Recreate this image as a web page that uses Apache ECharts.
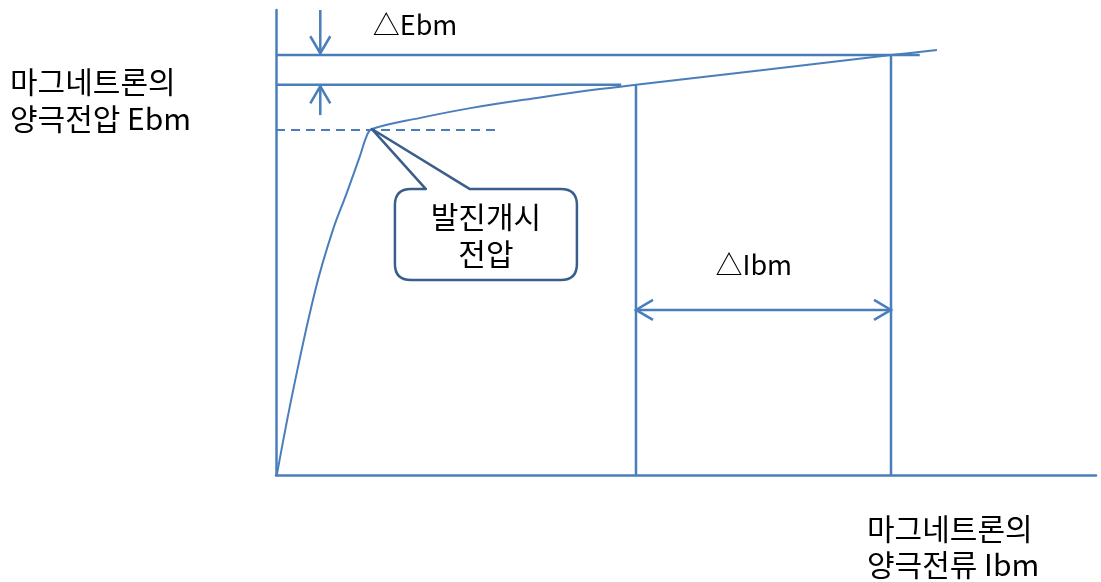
<!DOCTYPE html>
<html>
<head>
<meta charset="utf-8">
<script src="https://cdn.jsdelivr.net/npm/echarts@6/dist/echarts.min.js"></script>
<style>
    html, body {margin: 0; padding: 0; background: #fff;}
    #chart {width: 1101px; height: 582px;}
</style>
</head>
<body>
<div id="chart"></div>
<script>
// 곡선 (양극전류, 양극전압) - 임의 단위 0~100
const curveX = [0.1, 2.1, 4.8, 6.9, 8.6, 10.2, 11.1, 11.7, 17.6, 23.7, 32.2, 39.5, 43.9, 75.0, 80.6]
const curveY = [0, 18.3, 39.8, 52.5, 60.5, 68.4, 73.1, 74.4, 76.8, 78.9, 81.2, 83.0, 83.9, 90.3, 91.4]

// 보조선 [x1, y1, x2, y2]
const guideLines = [
    [0, 90.3, 78.5, 90.3],
    [0, 83.9, 42.1, 83.9],
    [43.9, 83.9, 43.9, 0],
    [75.0, 90.3, 75.0, 0]
]
// 발진개시 전압 점선
const oscLine = [0, 74.2, 27.3, 74.2]

// 화살표 [x1, y1, x2, y2, 양방향]
const arrows = [
    [5.4, 100, 5.4, 90.7, 0],
    [5.4, 77.4, 5.4, 83.6, 0],
    [43.9, 35.5, 75.0, 35.5, 1]
]

// 텍스트 [x, y]
const labelPos = [[11.8, 96.8], [53.6, 45.2]]
const labelText = ['△Ebm', '△Ibm']

// 말풍선: 꼭지점, 상자 중심
const calloutTip = [11.7, 74.4]
const calloutCenter = [25.6, 51.7]
const calloutText = '발진개시\n전압'

const blue = '#4A7EBB'
const dark = '#3A5E8C'
const font = '"Noto Sans CJK KR", "Noto Sans", sans-serif'

let chart = echarts.init(document.getElementById('chart'))

function head(tip, from, len, hw) {
    let dx = tip[0] - from[0], dy = tip[1] - from[1]
    let d = Math.sqrt(dx * dx + dy * dy)
    let ux = dx / d, uy = dy / d
    let bx = tip[0] - ux * len, by = tip[1] - uy * len
    return [[bx - uy * hw, by + ux * hw], tip, [bx + uy * hw, by - ux * hw]]
}

let series = []
series.push({
    type: 'line',
    data: curveX.map((x, i) => [x, curveY[i]]),
    smooth: 0.4,
    symbol: 'none',
    lineStyle: {color: blue, width: 2},
    z: 3
})
guideLines.forEach(g => {
    series.push({
        type: 'line',
        data: [[g[0], g[1]], [g[2], g[3]]],
        symbol: 'none',
        lineStyle: {color: blue, width: 2.5}
    })
})
series.push({
    type: 'line',
    data: [[oscLine[0], oscLine[1]], [oscLine[2], oscLine[3]]],
    symbol: 'none',
    lineStyle: {color: blue, width: 2, type: [9, 6]}
})
series.push({
    type: 'custom',
    data: arrows,
    clip: false,
    encode: {x: [0, 2], y: [1, 3]},
    renderItem: (params, api) => {
        let p1 = api.coord([api.value(0), api.value(1)])
        let p2 = api.coord([api.value(2), api.value(3)])
        let style = {stroke: blue, lineWidth: 2.5, fill: null}
        let children = [
            {type: 'polyline', shape: {points: [p1, p2]}, style: style},
            {type: 'polyline', shape: {points: head(p2, p1, 17, 10)}, style: style}
        ]
        if (api.value(4)) {
            children.push({type: 'polyline', shape: {points: head(p1, p2, 17, 10)}, style: style})
        }
        return {type: 'group', children: children}
    }
})
series.push({
    type: 'custom',
    data: labelPos,
    clip: false,
    renderItem: (params, api) => {
        let p = api.coord([api.value(0), api.value(1)])
        return {
            type: 'text',
            x: p[0], y: p[1],
            style: {
                text: labelText[params.dataIndex],
                font: '27px ' + font,
                fill: '#000',
                align: 'left',
                verticalAlign: 'middle'
            }
        }
    }
})
series.push({
    type: 'custom',
    data: [[calloutTip[0], calloutTip[1], calloutCenter[0], calloutCenter[1]]],
    clip: false,
    encode: {x: [0, 2], y: [1, 3]},
    z: 5,
    renderItem: (params, api) => {
        let t = api.coord([api.value(0), api.value(1)])
        let c = api.coord([api.value(2), api.value(3)])
        let w = 182, h = 91, r = 16
        let x0 = c[0] - w / 2, x1 = c[0] + w / 2, y0 = c[1] - h / 2, y1 = c[1] + h / 2
        let b1 = c[0] - 60, b2 = c[0] - 16
        let path = 'M' + (x0 + r) + ',' + y0 + ' L' + b1 + ',' + y0 + ' L' + t[0] + ',' + t[1] +
            ' L' + b2 + ',' + y0 + ' L' + (x1 - r) + ',' + y0 + ' Q' + x1 + ',' + y0 + ' ' + x1 + ',' + (y0 + r) +
            ' L' + x1 + ',' + (y1 - r) + ' Q' + x1 + ',' + y1 + ' ' + (x1 - r) + ',' + y1 +
            ' L' + (x0 + r) + ',' + y1 + ' Q' + x0 + ',' + y1 + ' ' + x0 + ',' + (y1 - r) +
            ' L' + x0 + ',' + (y0 + r) + ' Q' + x0 + ',' + y0 + ' ' + (x0 + r) + ',' + y0 + ' Z'
        return {
            type: 'group',
            children: [
                {
                    type: 'path',
                    shape: {pathData: path},
                    style: {fill: '#fff', stroke: dark, lineWidth: 2.5, lineJoin: 'round'}
                },
                {
                    type: 'text',
                    x: c[0], y: c[1],
                    style: {
                        text: calloutText,
                        font: '30px ' + font,
                        lineHeight: 37,
                        fill: '#000',
                        align: 'center',
                        verticalAlign: 'middle'
                    }
                }
            ]
        }
    }
})

const option = {
    animation: false,
    backgroundColor: '#fff',
    grid: {left: 276, right: 5, top: 10, bottom: 107},
    xAxis: {
        type: 'value',
        min: 0,
        max: 100,
        axisLine: {show: true, lineStyle: {color: blue, width: 2.5}},
        axisTick: {show: false},
        axisLabel: {show: false},
        splitLine: {show: false}
    },
    yAxis: {
        type: 'value',
        min: 0,
        max: 100,
        axisLine: {show: true, lineStyle: {color: blue, width: 2.5}},
        axisTick: {show: false},
        axisLabel: {show: false},
        splitLine: {show: false}
    },
    graphic: [
        {
            type: 'text',
            left: 10,
            top: 63,
            style: {text: '마그네트론의\n양극전압 Ebm', font: '30px ' + font, lineHeight: 37, fill: '#000'}
        },
        {
            type: 'text',
            left: 867,
            top: 511,
            style: {text: '마그네트론의\n양극전류 Ibm', font: '30px ' + font, lineHeight: 36, fill: '#000'}
        }
    ],
    series: series
}
chart.setOption(option)
</script>
</body>
</html>
